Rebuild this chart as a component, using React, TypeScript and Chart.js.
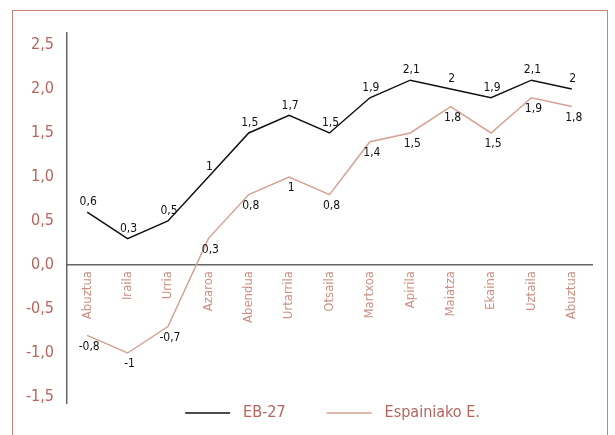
import React, { useEffect, useRef } from "react";
import { Chart, registerables } from "chart.js";

Chart.register(...registerables);

const months = ["Abuztua", "Iraila", "Urria", "Azaroa", "Abendua", "Urtarrila", "Otsaila", "Martxoa", "Apirila", "Maiatza", "Ekaina", "Uztaila", "Abuztua"];
const eb27 = [0.6, 0.3, 0.5, 1, 1.5, 1.7, 1.5, 1.9, 2.1, 2, 1.9, 2.1, 2];
const spain = [-0.8, -1, -0.7, 0.3, 0.8, 1, 0.8, 1.4, 1.5, 1.8, 1.5, 1.9, 1.8];
const yTicks = [-1.5, -1, -0.5, 0, 0.5, 1, 1.5, 2, 2.5];
const seriesNames = ["EB-27", "Espainiako E."];

const FONT = "'Liberation Sans Narrow', 'DejaVu Sans Condensed', 'Liberation Sans', sans-serif";
const RED = "#b5655b";
const XLAB = "#cc9082";
const SPAIN = "#d6a193";

const fmt = (v: number) => String(v).replace(".", ",");

const dataLabels = {
  id: "dataLabels",
  afterDatasetsDraw(chart: any) {
    const ctx = chart.ctx;
    ctx.save();
    ctx.font = `12px ${FONT}`;
    ctx.fillStyle = "#111";
    ctx.textAlign = "center";
    chart.data.datasets.forEach((ds: any, i: number) => {
      const meta = chart.getDatasetMeta(i);
      meta.data.forEach((pt: any, j: number) => {
        const v = ds.data[j];
        if (i === 0) {
          ctx.textBaseline = "bottom";
          ctx.fillText(fmt(v), pt.x + 1, pt.y - 4);
        } else {
          ctx.textBaseline = "top";
          ctx.fillText(fmt(v), pt.x + 2, pt.y + 5);
        }
      });
    });
    ctx.restore();
  },
};

const legendPlugin = {
  id: "customLegend",
  afterDraw(chart: any) {
    const ctx = chart.ctx;
    const area = chart.chartArea;
    const boxW = 45, gap = 13, spacing = 41;
    ctx.save();
    ctx.font = `16px ${FONT}`;
    const items = chart.data.datasets.map((ds: any) => ({ text: ds.label, color: ds.borderColor, w: ctx.measureText(ds.label).width }));
    const total = items.reduce((s: number, it: any) => s + boxW + gap + it.w, 0) + spacing * (items.length - 1);
    let x = (area.left + area.right) / 2 - total / 2 + 3;
    const y = area.bottom + 10;
    ctx.textBaseline = "middle";
    ctx.textAlign = "left";
    items.forEach((it: any) => {
      ctx.strokeStyle = it.color;
      ctx.lineWidth = 1.5;
      ctx.beginPath();
      ctx.moveTo(x, y);
      ctx.lineTo(x + boxW, y);
      ctx.stroke();
      ctx.fillStyle = RED;
      ctx.fillText(it.text, x + boxW + gap, y);
      x += boxW + gap + it.w + spacing;
    });
    ctx.restore();
  },
};

export default function App() {
  const ref = useRef<HTMLCanvasElement>(null);
  useEffect(() => {
    const chart = new Chart(ref.current!, {
      type: "line",
      data: {
        labels: months,
        datasets: [
          { label: seriesNames[0], data: eb27, borderColor: "#111", backgroundColor: "#111", borderWidth: 1.5, pointRadius: 0, tension: 0 },
          { label: seriesNames[1], data: spain, borderColor: SPAIN, backgroundColor: SPAIN, borderWidth: 1.5, pointRadius: 0, tension: 0 },
        ],
      },
      options: {
        animation: false,
        responsive: false,
        layout: { padding: { top: 33, right: 23, left: 0, bottom: 32 } },
        plugins: {
          tooltip: { enabled: false },
          legend: { display: false },
        },
        scales: {
          x: {
            offset: true,
            position: { y: 0 } as any,
            grid: { display: false, drawTicks: false },
            border: { display: true, color: "#666", width: 1.5 },
            ticks: { color: XLAB, font: { family: FONT, size: 13 }, minRotation: 90, maxRotation: 90, padding: 6 },
          },
          y: {
            min: -1.568,
            max: 2.636,
            grid: { display: false, drawTicks: false },
            border: { display: true, color: "#666", width: 1.5 },
            afterBuildTicks: (s: any) => { s.ticks = yTicks.map((v) => ({ value: v })); },
            afterFit: (s: any) => { s.width = 67; },
            ticks: { color: RED, font: { family: FONT, size: 16 }, padding: 13, callback: (v: any) => Number(v).toFixed(1).replace(".", ",") },
          },
        },
      },
      plugins: [dataLabels, legendPlugin],
    });
    return () => chart.destroy();
  }, []);
  return (
    <div style={{ position: "fixed", left: 0, top: 0, width: 615, height: 435, background: "#fff", overflow: "hidden" }}>
      <div style={{ position: "absolute", left: 12, top: 10, width: 596, height: 450, border: "1.5px solid #c98478", boxSizing: "border-box" }} />
      <canvas ref={ref} width={615} height={435} style={{ position: "absolute", left: 0, top: 0 }} />
    </div>
  );
}
